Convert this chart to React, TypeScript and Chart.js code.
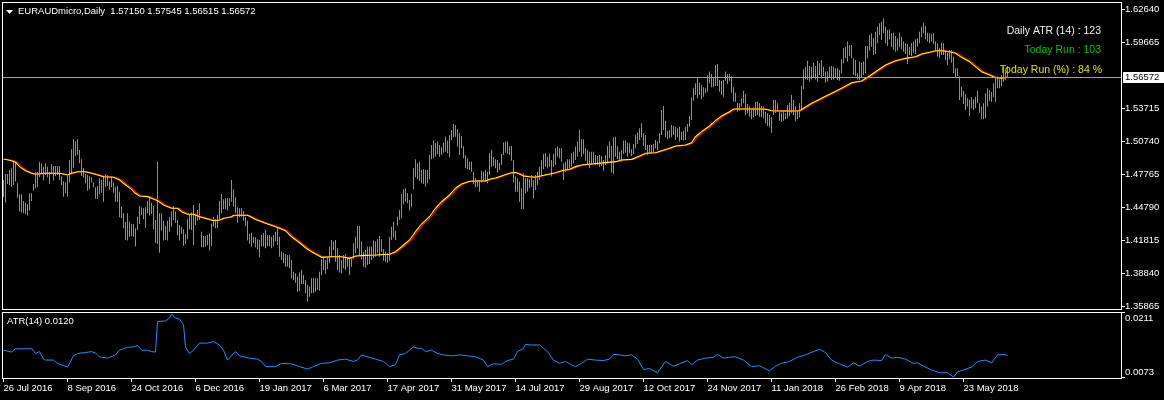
import React, { useEffect, useRef } from "react";
import { Chart, registerables } from "chart.js";
Chart.register(...registerables);

const FONT = '"Liberation Sans", Arial, sans-serif';

const symbolTitle = "EURAUDmicro,Daily";
const lastOHLC = [1.5715, 1.57545, 1.56515, 1.56572];
const lastClose = 1.56572;
const priceTicks = [1.35865, 1.3884, 1.41815, 1.4479, 1.47765, 1.5074, 1.53715, 1.59665, 1.6264];
const dateIdx = [0, 32, 64, 96, 128, 160, 192, 224, 256, 288, 320, 352, 384, 416, 448, 480];
const dateLabels = ["26 Jul 2016", "8 Sep 2016", "24 Oct 2016", "6 Dec 2016", "19 Jan 2017", "6 Mar 2017", "17 Apr 2017", "31 May 2017", "14 Jul 2017", "29 Aug 2017", "12 Oct 2017", "24 Nov 2017", "11 Jan 2018", "26 Feb 2018", "9 Apr 2018", "23 May 2018"];

const highs = [
1.4725,1.4779,1.4779,1.4815,1.4830,1.4905,1.4890,1.4695,1.4595,1.4595,
1.4535,1.4520,1.4505,1.4604,1.4604,1.4688,1.4800,1.4800,1.4887,1.4875,
1.4845,1.4875,1.4845,1.4800,1.4866,1.4851,1.4851,1.4851,1.4851,1.4755,
1.4713,1.4701,1.4761,1.4905,1.5002,1.5092,1.5071,1.5092,1.4996,1.4911,
1.4830,1.4779,1.4770,1.4761,1.4749,1.4704,1.4658,1.4670,1.4740,1.4725,
1.4761,1.4779,1.4770,1.4710,1.4755,1.4701,1.4664,1.4670,1.4619,1.4484,
1.4424,1.4345,1.4424,1.4348,1.4327,1.4327,1.4288,1.4393,1.4490,1.4478,
1.4469,1.4478,1.4538,1.4568,1.4520,1.4490,1.4363,1.4890,1.4424,1.4424,
1.4357,1.4309,1.4357,1.4393,1.4439,1.4490,1.4439,1.4363,1.4318,1.4303,
1.4279,1.4237,1.4369,1.4409,1.4430,1.4499,1.4424,1.4454,1.4514,1.4258,
1.4219,1.4219,1.4228,1.4243,1.4333,1.4393,1.4369,1.4409,1.4538,1.4598,
1.4550,1.4559,1.4562,1.4559,1.4725,1.4640,1.4568,1.4478,1.4469,1.4469,
1.4445,1.4393,1.4357,1.4237,1.4249,1.4213,1.4207,1.4189,1.4183,1.4228,
1.4243,1.4273,1.4228,1.4228,1.4213,1.4228,1.4258,1.4288,1.4213,1.4077,
1.4068,1.4056,1.4047,1.4047,1.4002,1.3897,1.3882,1.3852,1.3888,1.3912,
1.3867,1.3822,1.3776,1.3761,1.3837,1.3837,1.3837,1.3837,1.3897,1.4008,
1.4032,1.4002,1.4032,1.4123,1.4183,1.4168,1.4183,1.4108,1.4047,1.4002,
1.4047,1.4056,1.4026,1.4032,1.4017,1.4153,1.4213,1.4309,1.4309,1.4168,
1.4077,1.4093,1.4123,1.4123,1.4123,1.4177,1.4168,1.4189,1.4219,1.4189,
1.4099,1.4077,1.4062,1.4213,1.4303,1.4348,1.4267,1.4393,1.4454,1.4598,
1.4640,1.4649,1.4604,1.4544,1.4598,1.4830,1.4911,1.4875,1.4890,1.4815,
1.4821,1.4815,1.4815,1.4950,1.5041,1.5080,1.5056,1.5071,1.5041,1.5020,
1.5062,1.5116,1.5080,1.5131,1.5176,1.5230,1.5221,1.5182,1.5146,1.5122,
1.5026,1.4950,1.4920,1.4890,1.4890,1.4800,1.4740,1.4725,1.4725,1.4809,
1.4800,1.4815,1.4800,1.4965,1.4996,1.4929,1.4911,1.4905,1.4881,1.4959,
1.5062,1.5071,1.5071,1.5026,1.5032,1.4905,1.4755,1.4740,1.4710,1.4649,
1.4785,1.4740,1.4740,1.4731,1.4770,1.4725,1.4770,1.4800,1.4845,1.4905,
1.4959,1.4965,1.4935,1.4959,1.4905,1.4959,1.5011,1.5026,1.5011,1.5011,
1.4875,1.4890,1.4911,1.4911,1.4965,1.4980,1.5026,1.5071,1.5176,1.5092,
1.5092,1.5011,1.4996,1.4980,1.4980,1.4980,1.4950,1.4941,1.4950,1.4941,
1.4905,1.4950,1.5032,1.5071,1.5032,1.5110,1.5116,1.5026,1.4980,1.4996,
1.5080,1.5080,1.5062,1.5056,1.5002,1.5050,1.5131,1.5152,1.5191,1.5236,
1.5146,1.5131,1.5041,1.5041,1.5041,1.5050,1.5086,1.5071,1.5146,1.5357,
1.5393,1.5260,1.5170,1.5176,1.5221,1.5212,1.5206,1.5191,1.5206,1.5161,
1.5170,1.5206,1.5230,1.5302,1.5471,1.5552,1.5597,1.5652,1.5603,1.5582,
1.5561,1.5552,1.5673,1.5703,1.5682,1.5652,1.5763,1.5772,1.5627,1.5621,
1.5627,1.5703,1.5682,1.5682,1.5658,1.5561,1.5513,1.5423,1.5417,1.5462,
1.5531,1.5501,1.5411,1.5387,1.5357,1.5381,1.5432,1.5432,1.5417,1.5393,
1.5387,1.5341,1.5326,1.5311,1.5296,1.5447,1.5447,1.5417,1.5341,1.5332,
1.5341,1.5326,1.5402,1.5423,1.5492,1.5447,1.5387,1.5357,1.5417,1.5573,
1.5724,1.5748,1.5802,1.5754,1.5748,1.5784,1.5754,1.5802,1.5778,1.5808,
1.5748,1.5703,1.5703,1.5748,1.5754,1.5748,1.5733,1.5733,1.5718,1.5814,
1.5913,1.5928,1.5974,1.5944,1.5944,1.5823,1.5808,1.5688,1.5793,1.5784,
1.5793,1.5934,1.5934,1.6034,1.6049,1.6004,1.6064,1.6109,1.6139,1.6154,
1.6184,1.6109,1.6079,1.6085,1.6049,1.6055,1.6025,1.6004,1.6055,1.6019,
1.5974,1.5959,1.5953,1.5928,1.5959,1.5974,1.5995,1.6004,1.6064,1.6109,
1.6139,1.6115,1.6055,1.6049,1.6043,1.6049,1.5974,1.5959,1.5913,1.5965,
1.5959,1.5892,1.5874,1.5898,1.5898,1.5838,1.5733,1.5733,1.5658,1.5567,
1.5531,1.5501,1.5462,1.5447,1.5471,1.5453,1.5477,1.5531,1.5417,1.5387,
1.5417,1.5507,1.5552,1.5537,1.5522,1.5597,1.5643,1.5658,1.5634,1.5673,
1.5748,1.5703,1.57545
];

const lows = [
1.4574,1.4520,1.4688,1.4679,1.4664,1.4679,1.4710,1.4565,1.4439,1.4430,
1.4424,1.4418,1.4403,1.4448,1.4535,1.4628,1.4649,1.4658,1.4749,1.4779,
1.4719,1.4770,1.4749,1.4688,1.4779,1.4719,1.4761,1.4770,1.4725,1.4679,
1.4574,1.4604,1.4574,1.4701,1.4785,1.4830,1.4941,1.4950,1.4875,1.4761,
1.4746,1.4695,1.4628,1.4640,1.4701,1.4658,1.4556,1.4553,1.4598,1.4610,
1.4529,1.4664,1.4670,1.4634,1.4658,1.4610,1.4529,1.4529,1.4387,1.4378,
1.4288,1.4183,1.4177,1.4213,1.4219,1.4213,1.4123,1.4273,1.4327,1.4409,
1.4369,1.4294,1.4424,1.4403,1.4418,1.4279,1.4153,1.4147,1.4068,1.4267,
1.4177,1.4183,1.4177,1.4258,1.4303,1.4363,1.4339,1.4228,1.4177,1.4237,
1.4129,1.4147,1.4189,1.4279,1.4273,1.4138,1.4318,1.4357,1.4363,1.4117,
1.4117,1.4123,1.4135,1.4087,1.4129,1.4303,1.4288,1.4288,1.4369,1.4424,
1.4460,1.4460,1.4448,1.4490,1.4529,1.4484,1.4424,1.4339,1.4387,1.4393,
1.4357,1.4309,1.4177,1.4147,1.4123,1.4153,1.4117,1.4099,1.4026,1.4123,
1.4123,1.4108,1.4129,1.4123,1.4108,1.4123,1.4168,1.4138,1.4032,1.4002,
1.3972,1.3942,1.3942,1.3927,1.3837,1.3822,1.3797,1.3716,1.3725,1.3786,
1.3786,1.3701,1.3626,1.3671,1.3701,1.3701,1.3716,1.3731,1.3725,1.3867,
1.3912,1.3876,1.3918,1.3978,1.4032,1.4093,1.3987,1.3912,1.3888,1.3882,
1.3927,1.3912,1.3942,1.3867,1.3942,1.4008,1.4062,1.4108,1.4038,1.4008,
1.3942,1.3933,1.3957,1.3966,1.4002,1.4017,1.4032,1.4068,1.4032,1.4077,
1.3996,1.3987,1.3978,1.3996,1.4183,1.4207,1.4183,1.4309,1.4363,1.4378,
1.4508,1.4529,1.4514,1.4448,1.4478,1.4640,1.4749,1.4731,1.4719,1.4695,
1.4688,1.4664,1.4695,1.4731,1.4911,1.4920,1.4935,1.4959,1.4935,1.4950,
1.4971,1.4980,1.4965,1.4929,1.5086,1.5110,1.5116,1.5026,1.4950,1.5011,
1.4920,1.4830,1.4821,1.4815,1.4800,1.4688,1.4658,1.4664,1.4619,1.4701,
1.4719,1.4710,1.4695,1.4770,1.4845,1.4851,1.4830,1.4791,1.4815,1.4860,
1.4950,1.4971,1.4959,1.4950,1.4899,1.4701,1.4619,1.4619,1.4529,1.4460,
1.4460,1.4604,1.4619,1.4649,1.4664,1.4559,1.4634,1.4679,1.4725,1.4770,
1.4821,1.4845,1.4830,1.4845,1.4755,1.4845,1.4860,1.4935,1.4920,1.4890,
1.4725,1.4800,1.4815,1.4830,1.4845,1.4875,1.4905,1.4935,1.4980,1.4935,
1.4959,1.4899,1.4869,1.4830,1.4860,1.4875,1.4860,1.4860,1.4845,1.4851,
1.4809,1.4860,1.4875,1.4920,1.4791,1.4779,1.4935,1.4911,1.4905,1.4890,
1.4959,1.4971,1.4935,1.4965,1.4941,1.4959,1.5011,1.5050,1.5086,1.5110,
1.5032,1.4996,1.4950,1.4959,1.4965,1.4971,1.5011,1.4996,1.5056,1.5131,
1.5176,1.5110,1.5092,1.5101,1.5110,1.5131,1.5086,1.5110,1.5071,1.5086,
1.5080,1.5086,1.5161,1.5206,1.5266,1.5441,1.5492,1.5462,1.5492,1.5453,
1.5477,1.5507,1.5522,1.5597,1.5561,1.5561,1.5573,1.5573,1.5522,1.5492,
1.5477,1.5621,1.5591,1.5621,1.5513,1.5432,1.5432,1.5341,1.5350,1.5387,
1.5417,1.5311,1.5327,1.5296,1.5272,1.5290,1.5302,1.5311,1.5296,1.5290,
1.5281,1.5236,1.5212,1.5200,1.5152,1.5311,1.5326,1.5341,1.5260,1.5251,
1.5260,1.5272,1.5281,1.5302,1.5326,1.5311,1.5260,1.5272,1.5290,1.5357,
1.5543,1.5633,1.5627,1.5612,1.5633,1.5652,1.5633,1.5612,1.5673,1.5642,
1.5664,1.5603,1.5612,1.5652,1.5627,1.5633,1.5652,1.5627,1.5621,1.5688,
1.5778,1.5823,1.5793,1.5844,1.5823,1.5673,1.5664,1.5633,1.5627,1.5652,
1.5673,1.5688,1.5823,1.5892,1.5928,1.5853,1.5862,1.5959,1.6034,1.5989,
1.6049,1.5959,1.5934,1.5995,1.5922,1.5898,1.5883,1.5892,1.5922,1.5904,
1.5883,1.5862,1.5772,1.5853,1.5844,1.5874,1.5862,1.5928,1.5959,1.6013,
1.6049,1.5995,1.5974,1.5959,1.5974,1.5953,1.5898,1.5838,1.5823,1.5853,
1.5853,1.5808,1.5763,1.5814,1.5784,1.5688,1.5652,1.5664,1.5447,1.5477,
1.5411,1.5357,1.5387,1.5302,1.5372,1.5357,1.5372,1.5417,1.5332,1.5272,
1.5272,1.5281,1.5387,1.5441,1.5432,1.5471,1.5432,1.5552,1.5552,1.5573,
1.5612,1.5627,1.56515
];

const maIdx = [0,4,6,8,11,14,15,18,20,28,32,34,37,41,44,47,50,55,58,60,64,66,68,72,74,77,80,84,87,89,92,95,98,102,105,108,110,114,115,122,124,126,131,136,141,144,148,151,154,157,159,164,169,173,176,181,186,193,196,199,203,206,209,213,216,219,223,226,229,233,236,241,243,246,249,251,254,256,258,260,263,266,269,273,276,279,283,286,289,294,301,306,309,314,318,321,326,329,333,336,341,344,346,349,353,356,359,363,365,371,378,381,384,389,394,398,400,404,409,414,419,424,429,433,436,441,446,451,456,459,463,466,469,473,476,479,483,486,489,493,496,499,502];
const maVal = [1.4914,1.4899,1.4884,1.4845,1.4808,1.4785,1.4779,1.4779,1.4785,1.4785,1.4770,1.4785,1.4799,1.4799,1.4785,1.4770,1.4754,1.4749,1.4724,1.4695,1.4640,1.4604,1.4580,1.4574,1.4559,1.4538,1.4499,1.4469,1.4469,1.4438,1.4415,1.4415,1.4393,1.4372,1.4357,1.4363,1.4379,1.4393,1.4406,1.4406,1.4388,1.4368,1.4333,1.4303,1.4267,1.4212,1.4158,1.4113,1.4077,1.4047,1.4026,1.4032,1.4032,1.4017,1.4038,1.4044,1.4047,1.4054,1.4077,1.4122,1.4183,1.4258,1.4327,1.4393,1.4469,1.4528,1.4589,1.4650,1.4688,1.4713,1.4715,1.4715,1.4731,1.4742,1.4761,1.4774,1.4790,1.4792,1.4779,1.4761,1.4754,1.4749,1.4763,1.4779,1.4790,1.4808,1.4821,1.4845,1.4860,1.4869,1.4881,1.4890,1.4905,1.4911,1.4941,1.4966,1.4971,1.4989,1.5011,1.5031,1.5040,1.5061,1.5115,1.5161,1.5212,1.5260,1.5302,1.5341,1.5366,1.5366,1.5366,1.5363,1.5350,1.5348,1.5348,1.5350,1.5372,1.5417,1.5462,1.5507,1.5553,1.5603,1.5618,1.5664,1.5702,1.5763,1.5802,1.5823,1.5838,1.5862,1.5878,1.5892,1.5892,1.5883,1.5869,1.5832,1.5793,1.5748,1.5702,1.5673,1.5648,1.5643,1.5652];

// ATR(14) in pips (0.0001)
const atrIdx = [0,4,6,13,14,16,18,20,21,25,27,29,32,35,37,41,44,46,48,52,56,58,62,65,67,69,72,74,76,77,81,83,84,86,88,90,91,93,95,98,102,105,108,110,112,116,118,123,127,129,131,136,139,144,148,152,155,159,163,167,171,175,177,179,182,186,190,192,193,196,198,201,205,207,209,211,214,217,220,224,228,232,236,240,242,245,249,251,253,255,257,260,261,264,268,270,272,275,278,281,284,286,289,292,296,300,303,305,308,311,314,317,320,323,327,331,335,338,342,344,347,351,355,357,360,363,366,370,374,378,383,386,389,393,397,401,405,408,411,414,418,422,425,428,432,435,439,441,444,447,451,455,457,460,464,468,472,475,477,480,484,487,491,494,497,500,502];
const atrVal = [131,127,134,134,135,124,128,112,110,110,103,100,95,119,124,126,128,125,117,114,121,131,137,138,141,131,131,128,127,192,193,199,208,199,197,185,138,124,131,146,146,149,142,131,110,128,119,114,112,107,96,96,103,102,96,91,96,103,104,110,112,107,110,121,117,112,107,100,96,100,121,124,138,135,135,128,131,124,121,119,121,119,117,110,96,102,101,107,110,112,128,135,143,142,142,135,128,110,103,107,100,96,103,112,110,109,112,122,121,119,121,112,90,92,83,107,97,102,109,100,110,114,116,122,114,116,117,110,96,98,87,97,103,107,116,121,128,133,126,110,102,95,104,97,107,110,109,122,114,116,112,103,104,97,89,83,83,74,85,89,95,107,110,104,121,122,120];
const atrScaleLabels = [211, 73];
const atrNow = "0.0120";
const dailyAtrPips = 123;
const todayRunPips = 103;
const todayRunPct = 84;

export default function App() {
  const mainRef = useRef<HTMLCanvasElement | null>(null);
  const atrRef = useRef<HTMLCanvasElement | null>(null);

  useEffect(() => {
    const xMin = -0.75;
    const xMax = 558.75;
    const font = { family: FONT, size: 9.5 };
    const zeroPad = (s: any) => { s.paddingTop = 0; s.paddingBottom = 0; s.paddingLeft = 0; s.paddingRight = 0; };

    const bars = highs.map((h, i) => ({ x: i, y: [lows[i], h] }));
    const ma = maIdx.map((x, k) => ({ x, y: maVal[k] }));
    const maRed = maIdx.map((x, k) => ({ x: x + 1, y: maVal[k] }));
    const atrPts = atrIdx.map((x, k) => ({ x, y: atrVal[k] }));

    const mainDeco = {
      id: "mainDeco",
      afterDatasetsDraw(chart: any) {
        const { ctx, chartArea: a, scales } = chart;
        const py = Math.round(scales.y.getPixelForValue(lastClose));
        ctx.save();
        ctx.strokeStyle = "#a0a0a0";
        ctx.lineWidth = 1;
        ctx.beginPath();
        ctx.moveTo(a.left, py + 0.5);
        ctx.lineTo(a.right, py + 0.5);
        ctx.stroke();
        ctx.restore();
      },
      afterDraw(chart: any) {
        const { ctx, chartArea: a, scales } = chart;
        ctx.save();
        ctx.strokeStyle = "#ffffff";
        ctx.lineWidth = 1;
        ctx.strokeRect(a.left + 0.5, a.top + 0.5, a.right - a.left, a.bottom - a.top - 1);
        const py = Math.round(scales.y.getPixelForValue(lastClose));
        ctx.fillStyle = "#ffffff";
        ctx.fillRect(a.right + 2, py - 5, chart.width - a.right - 2, 11);
        ctx.fillStyle = "#000000";
        ctx.font = `9.5px ${FONT}`;
        ctx.textAlign = "left";
        ctx.textBaseline = "middle";
        ctx.fillText(lastClose.toFixed(5), a.right + 4, py + 0.5);
        ctx.fillStyle = "#ffffff";
        ctx.beginPath();
        ctx.moveTo(a.left + 4, a.top + 8);
        ctx.lineTo(a.left + 11, a.top + 8);
        ctx.lineTo(a.left + 7.5, a.top + 12);
        ctx.closePath();
        ctx.fill();
        ctx.textBaseline = "alphabetic";
        ctx.fillText(`${symbolTitle}  ${lastOHLC.map((v) => v.toFixed(5)).join(" ")}`, a.left + 16, a.top + 12);
        ctx.textAlign = "right";
        ctx.textBaseline = "middle";
        ctx.font = `10.5px ${FONT}`;
        ctx.fillStyle = "#f0f0f0";
        ctx.fillText(`Daily ATR (14) : ${dailyAtrPips}`, a.right - 20, 31);
        ctx.fillStyle = "#00c800";
        ctx.fillText(`Today Run : ${todayRunPips}`, a.right - 20, 50);
        ctx.fillStyle = "#e0e000";
        ctx.fillText(`Today Run (%) : ${todayRunPct} %`, a.right - 19, 70.5);
        ctx.restore();
      },
    };

    const atrDeco = {
      id: "atrDeco",
      afterDraw(chart: any) {
        const { ctx, chartArea: a, scales } = chart;
        ctx.save();
        ctx.strokeStyle = "#ffffff";
        ctx.lineWidth = 1;
        ctx.strokeRect(a.left + 0.5, a.top + 0.5, a.right - a.left, a.bottom - a.top);
        ctx.fillStyle = "#ffffff";
        ctx.font = `9.5px ${FONT}`;
        ctx.textAlign = "left";
        ctx.textBaseline = "middle";
        ctx.fillText(`ATR(14) ${atrNow}`, a.left + 5, a.top + 9);
        ctx.textBaseline = "top";
        ctx.fillText((atrScaleLabels[0] / 10000).toFixed(4), a.right + 4, scales.y.getPixelForValue(atrScaleLabels[0]) + 1);
        ctx.textBaseline = "bottom";
        ctx.fillText((atrScaleLabels[1] / 10000).toFixed(4), a.right + 4, scales.y.getPixelForValue(atrScaleLabels[1]));
        ctx.restore();
      },
    };

    const main = new Chart(mainRef.current as HTMLCanvasElement, {
      type: "bar",
      data: {
        datasets: [
          { type: "line", data: maRed, borderColor: "#ff0000", borderWidth: 1.2, pointRadius: 0, tension: 0, order: 2 } as any,
          { type: "line", data: ma, borderColor: "#ffff00", borderWidth: 1.1, pointRadius: 0, tension: 0, order: 1 } as any,
          { type: "bar", data: bars, backgroundColor: "#22dd22", borderWidth: 0, barThickness: 1, inflateAmount: 0, order: 3 } as any,
        ],
      },
      options: {
        animation: false,
        responsive: false,
        maintainAspectRatio: false,
        events: [],
        layout: { padding: { left: 2, top: 2, right: 0, bottom: 1 } },
        plugins: { legend: { display: false }, tooltip: { enabled: false } },
        scales: {
          x: { type: "linear", display: false, min: xMin, max: xMax, offset: false, afterFit: zeroPad },
          y: {
            position: "right",
            min: 1.35505,
            max: 1.63317,
            beginAtZero: false,
            afterFit: (s: any) => { s.width = 43; zeroPad(s); },
            afterBuildTicks: (s: any) => { s.ticks = priceTicks.map((value) => ({ value })); },
            ticks: { color: "#ffffff", font, padding: 0, autoSkip: false, callback: (v: any) => Number(v).toFixed(5) },
            grid: { drawOnChartArea: false, drawTicks: true, tickLength: 4, color: "#ffffff" },
            border: { display: false },
          },
        },
      } as any,
      plugins: [mainDeco],
    });

    const atr = new Chart(atrRef.current as HTMLCanvasElement, {
      type: "line",
      data: {
        datasets: [{ data: atrPts, borderColor: "#1e90ff", borderWidth: 1, pointRadius: 0, tension: 0 } as any],
      },
      options: {
        animation: false,
        responsive: false,
        maintainAspectRatio: false,
        events: [],
        layout: { padding: { left: 2, top: 1, right: 0, bottom: 0 } },
        plugins: { legend: { display: false }, tooltip: { enabled: false } },
        scales: {
          x: {
            type: "linear",
            min: xMin,
            max: xMax,
            offset: false,
            afterFit: (s: any) => { s.height = 22; zeroPad(s); },
            afterBuildTicks: (s: any) => { s.ticks = dateIdx.map((value) => ({ value })); },
            ticks: { color: "#ffffff", font, align: "start", autoSkip: false, maxRotation: 0, minRotation: 0, padding: 1, callback: (_v: any, i: number) => dateLabels[i] },
            grid: { drawOnChartArea: false, drawTicks: true, tickLength: 4, color: "#ffffff" },
            border: { display: false },
          },
          y: {
            position: "right",
            min: 71.9,
            max: 212.1,
            beginAtZero: false,
            afterFit: (s: any) => { s.width = 43; zeroPad(s); },
            afterBuildTicks: (s: any) => { s.ticks = atrScaleLabels.map((value) => ({ value })); },
            ticks: { display: false },
            grid: { drawOnChartArea: false, drawTicks: true, tickLength: 4, color: "#ffffff" },
            border: { display: false },
          },
        },
      } as any,
      plugins: [atrDeco],
    });

    return () => {
      main.destroy();
      atr.destroy();
    };
  }, []);

  return (
    <div style={{ position: "fixed", left: 0, top: 0, width: 1164, height: 400, background: "#000000", overflow: "hidden" }}>
      <canvas ref={mainRef} width={1164} height={311} style={{ position: "absolute", left: 0, top: 0, display: "block" }} />
      <canvas ref={atrRef} width={1164} height={89} style={{ position: "absolute", left: 0, top: 311, display: "block" }} />
    </div>
  );
}
